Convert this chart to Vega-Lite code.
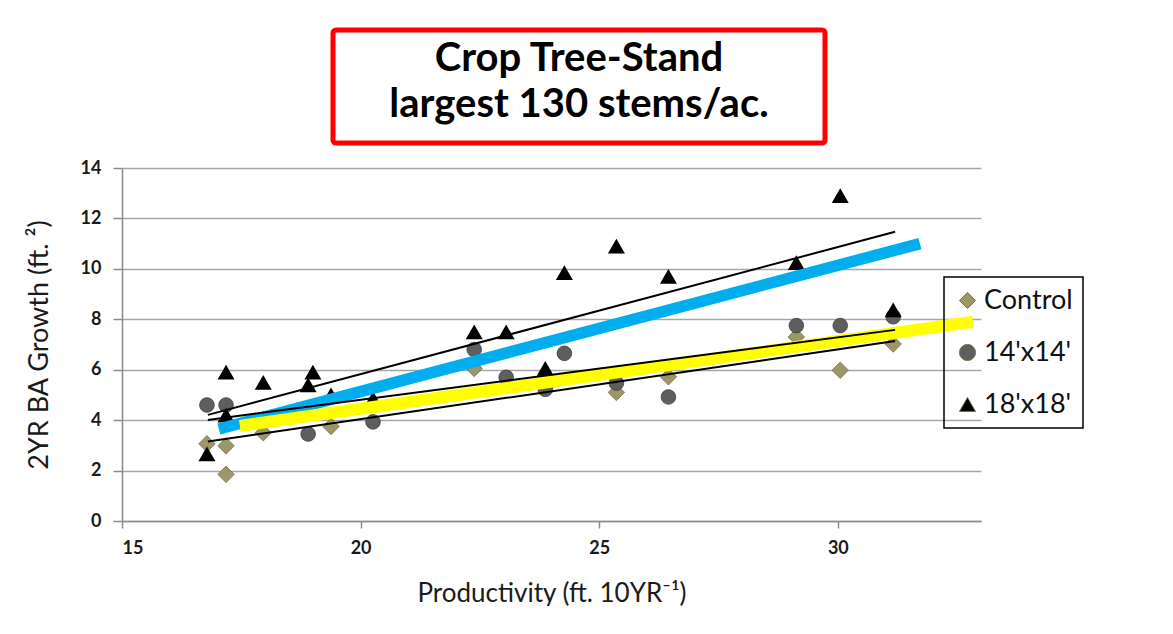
{
  "$schema": "https://vega.github.io/schema/vega-lite/v6.json",
  "background": "white",
  "padding": {"left": 25, "top": 27, "right": 0, "bottom": 0},
  "config": {
    "font": "Lato",
    "axisX": {"domainColor": "#8c8c8c", "domainWidth": 1.5, "tickColor": "#8c8c8c", "tickWidth": 1.5, "tickSize": 7, "labelFont": "Lato", "labelFontSize": 18, "labelFontWeight": "bold", "labelColor": "#1a1a1a", "labelPadding": 11, "titleFont": "Lato", "titleFontSize": 26, "titleFontWeight": "normal", "titleColor": "#1a1a1a", "titlePadding": 23, "grid": false},
    "axisY": {"domainColor": "#8c8c8c", "domainWidth": 1.5, "tickColor": "#8c8c8c", "tickWidth": 1.5, "tickSize": 9, "labelFont": "Lato", "labelFontSize": 18, "labelFontWeight": "bold", "labelColor": "#1a1a1a", "labelPadding": 12, "titleFont": "Lato", "titleFontSize": 27, "titleFontWeight": "normal", "titleColor": "#1a1a1a", "titlePadding": 27, "grid": true, "gridColor": "#a6a6a6", "gridWidth": 1.5},
    "legend": {"strokeColor": "#000000", "strokeWidth": 1.5, "fillColor": null, "padding": 10, "rowPadding": 24, "labelFont": "Lato", "labelFontSize": 27, "labelColor": "#111111", "labelOffset": 3, "symbolSize": 260, "symbolStrokeWidth": 1}
  },
  "datasets": {
    "points": [
      {"treatment": "Control", "productivity": 16.78, "growth": 3.06},
      {"treatment": "Control", "productivity": 17.18, "growth": 2.98},
      {"treatment": "Control", "productivity": 17.18, "growth": 1.85},
      {"treatment": "Control", "productivity": 17.96, "growth": 3.5},
      {"treatment": "Control", "productivity": 19.38, "growth": 3.75},
      {"treatment": "Control", "productivity": 22.38, "growth": 6.05},
      {"treatment": "Control", "productivity": 23.87, "growth": 5.3},
      {"treatment": "Control", "productivity": 25.36, "growth": 5.1},
      {"treatment": "Control", "productivity": 26.45, "growth": 5.72},
      {"treatment": "Control", "productivity": 29.13, "growth": 7.3},
      {"treatment": "Control", "productivity": 30.05, "growth": 5.98},
      {"treatment": "Control", "productivity": 31.16, "growth": 7.02},
      {"treatment": "14'x14'", "productivity": 16.78, "growth": 4.6},
      {"treatment": "14'x14'", "productivity": 17.18, "growth": 4.6},
      {"treatment": "14'x14'", "productivity": 18.9, "growth": 3.45},
      {"treatment": "14'x14'", "productivity": 20.26, "growth": 3.93},
      {"treatment": "14'x14'", "productivity": 22.38, "growth": 6.8},
      {"treatment": "14'x14'", "productivity": 23.05, "growth": 5.7},
      {"treatment": "14'x14'", "productivity": 23.87, "growth": 5.22},
      {"treatment": "14'x14'", "productivity": 24.27, "growth": 6.65},
      {"treatment": "14'x14'", "productivity": 25.36, "growth": 5.47},
      {"treatment": "14'x14'", "productivity": 26.45, "growth": 4.92},
      {"treatment": "14'x14'", "productivity": 29.13, "growth": 7.75},
      {"treatment": "14'x14'", "productivity": 30.05, "growth": 7.75},
      {"treatment": "14'x14'", "productivity": 31.16, "growth": 8.1},
      {"treatment": "18'x18'", "productivity": 16.78, "growth": 2.66},
      {"treatment": "18'x18'", "productivity": 17.18, "growth": 5.9},
      {"treatment": "18'x18'", "productivity": 17.18, "growth": 4.2},
      {"treatment": "18'x18'", "productivity": 17.96, "growth": 5.5},
      {"treatment": "18'x18'", "productivity": 18.9, "growth": 5.4},
      {"treatment": "18'x18'", "productivity": 19.0, "growth": 5.9},
      {"treatment": "18'x18'", "productivity": 19.38, "growth": 5.0},
      {"treatment": "18'x18'", "productivity": 20.26, "growth": 4.85},
      {"treatment": "18'x18'", "productivity": 22.38, "growth": 7.5},
      {"treatment": "18'x18'", "productivity": 23.05, "growth": 7.5},
      {"treatment": "18'x18'", "productivity": 23.87, "growth": 6.05},
      {"treatment": "18'x18'", "productivity": 24.27, "growth": 9.85},
      {"treatment": "18'x18'", "productivity": 25.36, "growth": 10.9},
      {"treatment": "18'x18'", "productivity": 26.45, "growth": 9.7},
      {"treatment": "18'x18'", "productivity": 29.13, "growth": 10.25},
      {"treatment": "18'x18'", "productivity": 30.05, "growth": 12.9},
      {"treatment": "18'x18'", "productivity": 31.16, "growth": 8.37}
    ],
    "highlights": [
      {"line": "blue", "productivity": 17.03, "growth": 3.65},
      {"line": "blue", "productivity": 31.72, "growth": 11.0},
      {"line": "yellow", "productivity": 17.47, "growth": 3.77},
      {"line": "yellow", "productivity": 32.83, "growth": 7.9}
    ],
    "trendlines": [
      {"line": "18'x18' trend", "productivity": 16.8, "growth": 4.21},
      {"line": "18'x18' trend", "productivity": 31.2, "growth": 11.47},
      {"line": "14'x14' trend", "productivity": 16.8, "growth": 4.01},
      {"line": "14'x14' trend", "productivity": 31.2, "growth": 7.58},
      {"line": "Control trend", "productivity": 16.8, "growth": 3.15},
      {"line": "Control trend", "productivity": 31.2, "growth": 7.14}
    ]
  },
  "vconcat": [
    {
      "hconcat": [
        {"data": {"values": []}, "mark": "point", "width": 208, "height": 113, "view": {"stroke": null}},
        {
          "data": {"values": [{}]},
          "width": 492, "height": 113,
          "view": {"stroke": "#ff0000", "strokeWidth": 5, "cornerRadius": 3},
          "mark": {"type": "text", "text": ["Crop Tree-Stand", "largest 130 stems/ac."], "font": "Lato", "fontSize": 40, "fontWeight": "bold", "lineHeight": 46, "align": "center", "baseline": "middle", "dy": -28, "color": "#000000"}
        }
      ],
      "spacing": 0
    },
    {
      "width": 859, "height": 353,
      "view": {"stroke": null},
      "encoding": {
        "x": {"field": "productivity", "type": "quantitative", "scale": {"domain": [15, 33], "nice": false, "zero": false}, "axis": {"values": [15, 20, 25, 30], "title": "Productivity (ft. 10YR⁻¹)"}},
        "y": {"field": "growth", "type": "quantitative", "scale": {"domain": [0, 14], "nice": false}, "axis": {"values": [0, 2, 4, 6, 8, 10, 12, 14], "title": "2YR BA Growth (ft. ²)"}}
      },
      "layer": [
        {
          "data": {"name": "points"},
          "transform": [{"filter": "datum.treatment === 'Control'"}],
          "mark": {"type": "point", "filled": true, "opacity": 1, "size": 272, "stroke": "#77704a", "strokeWidth": 0.8},
          "encoding": {
            "shape": {"field": "treatment", "type": "nominal", "scale": {"domain": ["Control", "14'x14'", "18'x18'"], "range": ["diamond", "circle", "triangle-up"]}, "legend": {"title": null, "orient": "none", "legendX": 822, "legendY": 247}},
            "color": {"field": "treatment", "type": "nominal", "scale": {"domain": ["Control", "14'x14'", "18'x18'"], "range": ["#9d9669", "#5e5e5e", "#000000"]}, "legend": {"title": null, "orient": "none", "legendX": 822, "legendY": 247}}
          }
        },
        {
          "data": {"name": "points"},
          "transform": [{"filter": "datum.treatment === \"14'x14'\""}],
          "mark": {"type": "point", "filled": true, "opacity": 1, "size": 214, "stroke": "#3d3d3d", "strokeWidth": 0.8},
          "encoding": {
            "shape": {"field": "treatment", "type": "nominal"},
            "color": {"field": "treatment", "type": "nominal"}
          }
        },
        {
          "data": {"name": "points"},
          "transform": [{"filter": "datum.treatment === \"18'x18'\""}],
          "mark": {"type": "point", "filled": true, "opacity": 1, "size": 289},
          "encoding": {
            "shape": {"field": "treatment", "type": "nominal"},
            "color": {"field": "treatment", "type": "nominal"}
          }
        },
        {
          "data": {"name": "highlights"},
          "transform": [{"filter": "datum.line === 'blue'"}],
          "mark": {"type": "line", "strokeWidth": 11.5, "strokeCap": "butt", "color": "#00aeef"},
          "encoding": {}
        },
        {
          "data": {"name": "highlights"},
          "transform": [{"filter": "datum.line === 'yellow'"}],
          "mark": {"type": "line", "strokeWidth": 12, "strokeCap": "butt", "color": "#ffff00"},
          "encoding": {}
        },
        {
          "data": {"name": "trendlines"},
          "mark": {"type": "line", "strokeWidth": 2, "color": "#000000", "strokeCap": "butt"},
          "encoding": {
            "detail": {"field": "line", "type": "nominal"}
          }
        }
      ]
    }
  ],
  "spacing": 13
}
